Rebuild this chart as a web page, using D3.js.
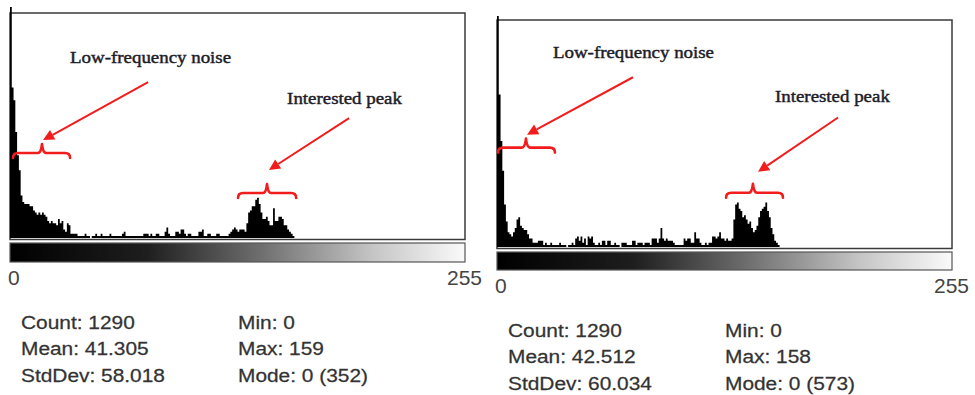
<!DOCTYPE html>
<html>
<head>
<meta charset="utf-8">
<script src="https://cdn.jsdelivr.net/npm/d3@7"></script>
<style>
  body { margin: 0; background: #fff; }
  svg { display: block; }
</style>
</head>
<body>
<svg id="chart" width="975" height="395"></svg>
<script>
// histogram counts per grey level (bins 0..159, everything above is empty)
const leftCounts = [
  352, 71, 65, 50, 39, 32, 20, 17, 16, 16, 16, 15, 15, 13, 12, 11, 12, 11, 12, 11,
  10, 8, 7, 8, 7, 7, 6, 9, 7, 8, 4, 3, 7, 6, 2, 2, 2, 2, 1, 1,
  1, 1, 2, 1, 1, 0, 1, 1, 2, 1, 1, 2, 1, 1, 1, 1, 2, 1, 1, 1,
  1, 1, 1, 2, 3, 1, 1, 1, 1, 1, 1, 1, 1, 1, 1, 2, 2, 2, 1, 2,
  1, 1, 2, 2, 1, 1, 1, 3, 5, 2, 1, 1, 1, 3, 3, 2, 4, 4, 2, 1,
  2, 2, 1, 1, 1, 1, 3, 3, 4, 1, 1, 2, 2, 1, 1, 1, 2, 2, 1, 1,
  1, 1, 1, 2, 3, 4, 5, 4, 3, 4, 4, 4, 3, 7, 12, 13, 15, 15, 18, 19,
  16, 12, 9, 9, 10, 8, 6, 6, 14, 8, 8, 10, 10, 9, 6, 6, 4, 3, 2, 1
];
const rightCounts = [
  573, 72, 50, 36, 20, 12, 7, 6, 5, 7, 9, 13, 14, 10, 9, 8, 8, 6, 4, 4,
  2, 2, 2, 3, 3, 3, 1, 2, 1, 1, 2, 1, 1, 1, 1, 2, 1, 1, 1, 0,
  1, 1, 2, 1, 4, 5, 3, 5, 2, 4, 1, 5, 4, 5, 2, 1, 1, 2, 1, 3,
  3, 1, 3, 3, 1, 1, 2, 1, 1, 0, 2, 2, 2, 1, 1, 1, 3, 3, 1, 2,
  2, 2, 1, 2, 2, 2, 1, 4, 4, 4, 2, 4, 9, 4, 3, 4, 3, 3, 3, 2,
  1, 1, 1, 1, 1, 4, 3, 4, 4, 2, 2, 7, 4, 4, 2, 1, 1, 2, 1, 2,
  2, 5, 5, 4, 5, 7, 4, 4, 3, 4, 3, 3, 4, 13, 20, 21, 18, 17, 14, 15,
  13, 11, 12, 9, 7, 8, 10, 14, 17, 18, 19, 21, 17, 14, 9, 6, 3, 2, 1
];

const axisLabels = ['0', '255'];
const leftStats = [['Count: 1290', 'Mean: 41.305', 'StdDev: 58.018'], ['Min: 0', 'Max: 159', 'Mode: 0 (352)']];
const rightStats = [['Count: 1290', 'Mean: 42.512', 'StdDev: 60.034'], ['Min: 0', 'Max: 158', 'Mode: 0 (573)']];

const noiseText = 'Low-frequency noise';
const peakText = 'Interested peak';

// annotation anchors in data units: [grey level, count]
const leftNotes = {
  noiseLabel: [33.8, 82.6], peakLabel: [155.9, 63.4],
  noiseArrow: [[77.7, 73.6], [18.6, 46.2]], peakArrow: [[190.8, 56.6], [145.7, 32.1]],
  noiseBrace: [1.7, 33.8, 18, 40.1], peakBrace: [128.3, 161, 144.6, 21.2]
};
const rightNotes = {
  noiseLabel: [31.5, 89.1], peakLabel: [156.4, 68.2],
  noiseArrow: [[76.5, 80.1], [16.9, 53]], peakArrow: [[191.9, 61.1], [146.9, 35.5]],
  noiseBrace: [0.6, 32.6, 16.3, 46.9], peakBrace: [128.9, 160.9, 144, 25.6]
};

const panels = [
  { id: 'l', counts: leftCounts, stats: leftStats, notes: leftNotes,
    x0: 10, x1: 465, top: 13, base: 238, barTop: 243, barBottom: 262 },
  { id: 'r', counts: rightCounts, stats: rightStats, notes: rightNotes,
    x0: 497, x1: 952, top: 20, base: 247, barTop: 252, barBottom: 270 }
];

const RED = '#f21c1c';
const svg = d3.select('#chart');
const defs = svg.append('defs');

// the scanned grey bar stays dark for longer than a plain linear ramp
const grad = defs.append('linearGradient').attr('id', 'grey').attr('x1', '0%').attr('x2', '100%');
[[0, '#000'], [0.3, '#1e1e1e'], [0.55, '#6e6e6e'], [0.8, '#c6c6c6'], [1, '#fafafa']].forEach(s => {
  grad.append('stop').attr('offset', s[0]).attr('stop-color', s[1]);
});

panels.forEach(p => {
  const g = svg.append('g');
  const x = d3.scaleLinear().domain([0, 256]).range([p.x0, p.x1]);
  // tallest bin is clipped just above the frame, like the original plot
  const y = d3.scaleLinear().domain([0, 109]).range([p.base, p.base - 231]).clamp(true);

  // frame
  g.append('rect')
    .attr('x', p.x0).attr('y', p.top)
    .attr('width', p.x1 - p.x0).attr('height', p.base + 1.5 - p.top)
    .attr('fill', 'none').attr('stroke', '#3a3a3a').attr('stroke-width', 1.5);

  // bars: one stepped shape so neighbouring bins don't leave seams
  const steps = p.counts.map((c, i) => [i, c]).concat([[p.counts.length, 0]]);
  const area = d3.area()
    .x(d => x(d[0]))
    .y0(p.base)
    .y1(d => y(d[1]))
    .curve(d3.curveStepAfter);
  g.append('path')
    .datum(steps)
    .attr('d', area)
    .attr('fill', '#000');

  // grey-level bar
  g.append('rect')
    .attr('x', p.x0).attr('y', p.barTop)
    .attr('width', p.x1 - p.x0).attr('height', p.barBottom - p.barTop)
    .attr('fill', 'url(#grey)').attr('stroke', '#555').attr('stroke-width', 1.2);

  // 0 / 255 labels
  g.append('text')
    .attr('x', x(0) - 2).attr('y', p.barBottom + 23)
    .attr('font-family', 'Liberation Sans, Arial, sans-serif').attr('font-size', 21)
    .attr('fill', '#444').text(axisLabels[0]);
  g.append('text')
    .attr('x', x(256) + 17).attr('y', p.barBottom + 23)
    .attr('text-anchor', 'end')
    .attr('font-family', 'Liberation Sans, Arial, sans-serif').attr('font-size', 21)
    .attr('fill', '#444').text(axisLabels[1]);

  // statistics
  const colX = [p.x0 + 11, p.x0 + 228];
  const rowY = [66.5, 93, 119.5];
  p.stats.forEach((col, ci) => {
    col.forEach((txt, ri) => {
      g.append('text')
        .attr('transform', `translate(${colX[ci]},${p.barBottom + rowY[ri]}) scale(1.13,1)`)
        .attr('font-family', 'Liberation Sans, Arial, sans-serif').attr('font-size', 18.5)
        .attr('fill', '#333').attr('stroke', '#333').attr('stroke-width', 0.25)
        .text(txt);
    });
  });

  // annotations
  const n = p.notes;
  const label = (pos, txt) => g.append('text')
    .attr('transform', `translate(${x(pos[0])},${y(pos[1])}) scale(1.08,1)`)
    .attr('font-family', 'Liberation Serif, Times New Roman, serif').attr('font-size', 17.5)
    .attr('fill', '#1c1c28').attr('stroke', '#1c1c28').attr('stroke-width', 0.45)
    .text(txt);
  label(n.noiseLabel, noiseText);
  label(n.peakLabel, peakText);

  const arrow = pts => {
    const [sx, sy] = [x(pts[0][0]), y(pts[0][1])];
    const [tx, ty] = [x(pts[1][0]), y(pts[1][1])];
    const ang = Math.atan2(ty - sy, tx - sx);
    const len = 11, half = 5.5;
    const bx = tx - len * Math.cos(ang), by = ty - len * Math.sin(ang);
    g.append('line')
      .attr('x1', sx).attr('y1', sy).attr('x2', bx).attr('y2', by)
      .attr('stroke', RED).attr('stroke-width', 2);
    g.append('path')
      .attr('d', `M${tx},${ty}L${bx - half * Math.sin(ang)},${by + half * Math.cos(ang)}L${bx + half * Math.sin(ang)},${by - half * Math.cos(ang)}Z`)
      .attr('fill', RED);
  };
  arrow(n.noiseArrow);
  arrow(n.peakArrow);

  const brace = b => {
    const xa = x(b[0]), xb = x(b[1]), xc = x(b[2]), yy = y(b[3]);
    const d = `M${xa},${yy + 5}Q${xa},${yy} ${xa + 5},${yy}L${xc - 4},${yy}` +
      `Q${xc - 1},${yy} ${xc},${yy - 9}Q${xc + 1},${yy} ${xc + 4},${yy}` +
      `L${xb - 5},${yy}Q${xb},${yy} ${xb},${yy + 5}`;
    g.append('path').attr('d', d)
      .attr('fill', 'none').attr('stroke', RED).attr('stroke-width', 2.6)
      .attr('stroke-linecap', 'round').attr('stroke-linejoin', 'round');
  };
  brace(n.noiseBrace);
  brace(n.peakBrace);
});
</script>
</body>
</html>
